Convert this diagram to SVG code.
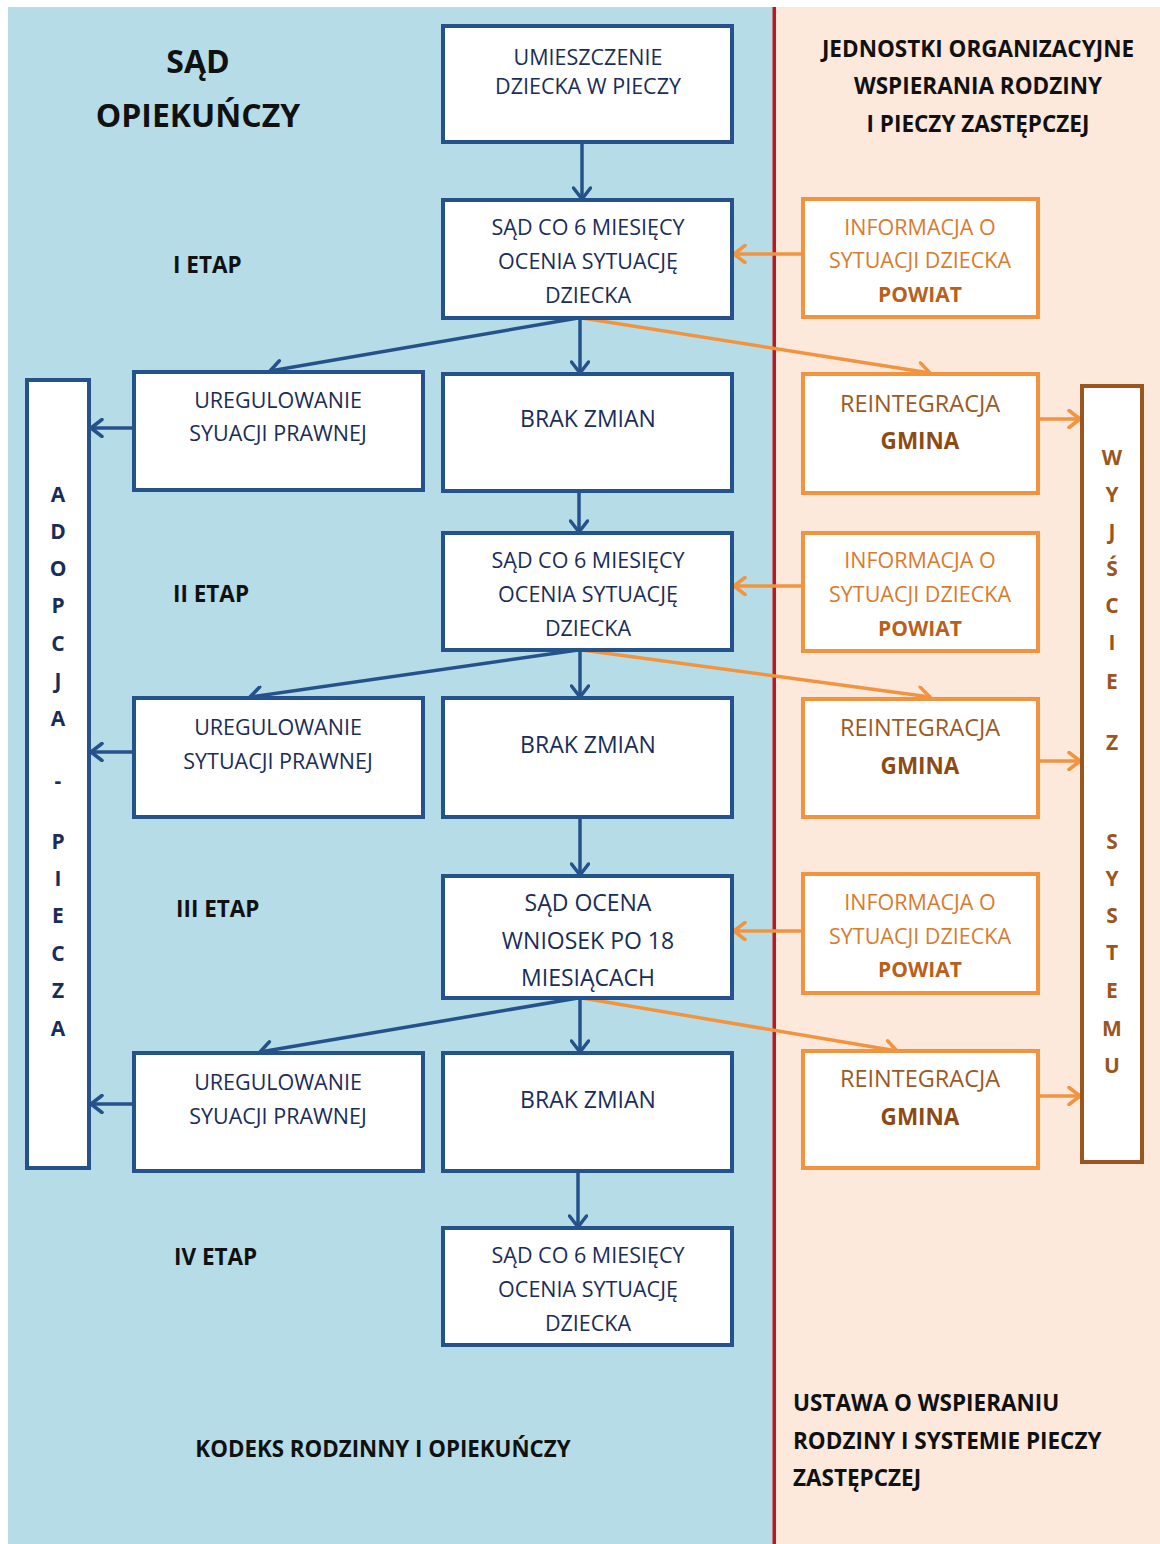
<svg xmlns="http://www.w3.org/2000/svg" width="1160" height="1544" viewBox="0 0 1160 1544">
<defs>
<style>
.bb{fill:#fff;stroke:#25528b;stroke-width:4}
.ob{fill:#fff;stroke:#f2943f;stroke-width:4}
.wb{fill:#fff;stroke:#9b561f;stroke-width:4}
.t{font-family:"Open Sans","Noto Sans",sans-serif;font-size:21.5px;fill:#1a2d58;text-anchor:middle}
.tb{font-family:"Open Sans","Noto Sans",sans-serif;font-size:23px;fill:#1a2d58;text-anchor:middle}
.to{font-family:"Open Sans","Noto Sans",sans-serif;font-size:21.5px;fill:#d97b2c;text-anchor:middle}
.tr{font-family:"Open Sans","Noto Sans",sans-serif;font-size:23.5px;fill:#9c5a25;text-anchor:middle}
.trb{font-family:"Open Sans","Noto Sans",sans-serif;font-size:22.5px;fill:#8e4a16;font-weight:bold;text-anchor:middle}
.pow{font-family:"Open Sans","Noto Sans",sans-serif;font-size:21px;fill:#b8601c;font-weight:bold;text-anchor:middle}
.h{font-family:"Open Sans","Noto Sans",sans-serif;font-weight:bold;fill:#111}
.va{font-family:"Open Sans","Noto Sans",sans-serif;font-weight:bold;font-size:21px;fill:#1a2d58;text-anchor:middle}
.vw{font-family:"Open Sans","Noto Sans",sans-serif;font-weight:bold;font-size:21px;fill:#9b561f;text-anchor:middle}
.cb{fill:none;stroke:#25528b;stroke-width:3.5}
.co{fill:none;stroke:#f2943f;stroke-width:3.5}
</style>
<marker id="mb" viewBox="0 0 20 20" refX="18" refY="10" markerWidth="20" markerHeight="20" orient="auto" markerUnits="userSpaceOnUse"><path d="M7,1.5 L18,10 L7,18.5" fill="none" stroke="#25528b" stroke-width="3.5" stroke-linecap="round" stroke-linejoin="round"/></marker>
<marker id="mo" viewBox="0 0 20 20" refX="18" refY="10" markerWidth="20" markerHeight="20" orient="auto" markerUnits="userSpaceOnUse"><path d="M7,1.5 L18,10 L7,18.5" fill="none" stroke="#f2943f" stroke-width="3.5" stroke-linecap="round" stroke-linejoin="round"/></marker>
</defs>
<rect x="0" y="0" width="1160" height="1544" fill="#fff"/>
<rect x="8" y="7" width="767" height="1537" fill="#b6dde7"/>
<rect x="775" y="7" width="385" height="1537" fill="#fce9dc"/>
<rect x="772.5" y="7" width="3.5" height="1537" fill="#c0161f"/>

<g id="headers">
<text class="h" x="198" y="73" font-size="32" text-anchor="middle">SĄD</text>
<text class="h" x="198" y="127" font-size="32" text-anchor="middle">OPIEKUŃCZY</text>
<text class="h" x="978" y="57" font-size="22.5" text-anchor="middle">JEDNOSTKI ORGANIZACYJNE</text>
<text class="h" x="978" y="94" font-size="22.5" text-anchor="middle">WSPIERANIA RODZINY</text>
<text class="h" x="978" y="132" font-size="22.5" text-anchor="middle">I PIECZY ZASTĘPCZEJ</text>
<text class="h" x="173" y="273" font-size="22.5">I ETAP</text>
<text class="h" x="173" y="602" font-size="22.5">II ETAP</text>
<text class="h" x="176" y="917" font-size="22.5">III ETAP</text>
<text class="h" x="174" y="1265" font-size="22.5">IV ETAP</text>
<text class="h" x="383" y="1457" font-size="22.3" text-anchor="middle">KODEKS RODZINNY I OPIEKUŃCZY</text>
<text class="h" x="793" y="1411" font-size="22.5">USTAWA O WSPIERANIU</text>
<text class="h" x="793" y="1449" font-size="22.5">RODZINY I SYSTEMIE PIECZY</text>
<text class="h" x="793" y="1486" font-size="22.5">ZASTĘPCZEJ</text>
</g>

<g id="connectors">
<line class="cb" x1="582" y1="142" x2="582" y2="199" marker-end="url(#mb)"/>
<line class="co" x1="803" y1="254" x2="734" y2="254" marker-end="url(#mo)"/>
<line class="cb" x1="578" y1="318" x2="270" y2="371" marker-end="url(#mb)"/>
<line class="cb" x1="580" y1="318" x2="580" y2="373" marker-end="url(#mb)"/>
<line class="co" x1="582" y1="318" x2="930" y2="373" marker-end="url(#mo)"/>
<line class="cb" x1="140" y1="428" x2="91" y2="428" marker-end="url(#mb)"/>
<line class="co" x1="1038" y1="419" x2="1080" y2="419" marker-end="url(#mo)"/>
<line class="cb" x1="579" y1="491" x2="579" y2="532" marker-end="url(#mb)"/>
<line class="co" x1="803" y1="586" x2="734" y2="586" marker-end="url(#mo)"/>
<line class="cb" x1="578" y1="650" x2="250" y2="697" marker-end="url(#mb)"/>
<line class="cb" x1="580" y1="650" x2="580" y2="697" marker-end="url(#mb)"/>
<line class="co" x1="582" y1="650" x2="930" y2="697" marker-end="url(#mo)"/>
<line class="cb" x1="134" y1="752" x2="91" y2="752" marker-end="url(#mb)"/>
<line class="co" x1="1038" y1="761" x2="1080" y2="761" marker-end="url(#mo)"/>
<line class="cb" x1="580" y1="808" x2="580" y2="875" marker-end="url(#mb)"/>
<line class="co" x1="803" y1="931" x2="734" y2="931" marker-end="url(#mo)"/>
<line class="cb" x1="578" y1="998" x2="260" y2="1052" marker-end="url(#mb)"/>
<line class="cb" x1="580" y1="998" x2="580" y2="1052" marker-end="url(#mb)"/>
<line class="co" x1="582" y1="998" x2="897" y2="1051" marker-end="url(#mo)"/>
<line class="cb" x1="134" y1="1104" x2="91" y2="1104" marker-end="url(#mb)"/>
<line class="co" x1="1038" y1="1096" x2="1080" y2="1096" marker-end="url(#mo)"/>
<line class="cb" x1="578" y1="1171" x2="578" y2="1227" marker-end="url(#mb)"/>
</g>

<g id="n-umieszczenie"><rect class="bb" x="443" y="26" width="289" height="116"/>
<text class="t" x="588" y="65">UMIESZCZENIE</text><text class="t" x="588" y="94">DZIECKA W PIECZY</text></g>

<g id="n-sad1"><rect class="bb" x="443" y="200" width="289" height="118"/>
<text class="t" x="588" y="235">SĄD CO 6 MIESIĘCY</text><text class="t" x="588" y="269">OCENIA SYTUACJĘ</text><text class="t" x="588" y="303">DZIECKA</text></g>

<g id="n-ure1"><rect class="bb" x="134" y="372" width="289" height="118"/>
<text class="t" x="278" y="408">UREGULOWANIE</text><text class="t" x="278" y="441">SYUACJI PRAWNEJ</text></g>

<g id="n-brak1"><rect class="bb" x="443" y="374" width="289" height="117"/>
<text class="tb" x="588" y="427">BRAK ZMIAN</text></g>

<g id="n-sad2"><rect class="bb" x="443" y="533" width="289" height="117"/>
<text class="t" x="588" y="568">SĄD CO 6 MIESIĘCY</text><text class="t" x="588" y="602">OCENIA SYTUACJĘ</text><text class="t" x="588" y="636">DZIECKA</text></g>

<g id="n-ure2"><rect class="bb" x="134" y="698" width="289" height="119"/>
<text class="t" x="278" y="735">UREGULOWANIE</text><text class="t" x="278" y="769">SYTUACJI PRAWNEJ</text></g>

<g id="n-brak2"><rect class="bb" x="443" y="698" width="289" height="119"/>
<text class="tb" x="588" y="753">BRAK ZMIAN</text></g>

<g id="n-sad3"><rect class="bb" x="443" y="876" width="289" height="122"/>
<text class="tb" x="588" y="911">SĄD OCENA</text><text class="tb" x="588" y="949">WNIOSEK PO 18</text><text class="tb" x="588" y="986">MIESIĄCACH</text></g>

<g id="n-ure3"><rect class="bb" x="134" y="1053" width="289" height="118"/>
<text class="t" x="278" y="1090">UREGULOWANIE</text><text class="t" x="278" y="1124">SYUACJI PRAWNEJ</text></g>

<g id="n-brak3"><rect class="bb" x="443" y="1053" width="289" height="118"/>
<text class="tb" x="588" y="1108">BRAK ZMIAN</text></g>

<g id="n-sad4"><rect class="bb" x="443" y="1228" width="289" height="117"/>
<text class="t" x="588" y="1263">SĄD CO 6 MIESIĘCY</text><text class="t" x="588" y="1297">OCENIA SYTUACJĘ</text><text class="t" x="588" y="1331">DZIECKA</text></g>

<g id="n-adopcja"><rect class="bb" x="27" y="380" width="62" height="788"/>
<text class="va" x="58" y="502">A</text><text class="va" x="58" y="539">D</text><text class="va" x="58" y="576">O</text><text class="va" x="58" y="613">P</text><text class="va" x="58" y="651">C</text><text class="va" x="58" y="688">J</text><text class="va" x="58" y="726">A</text><text class="va" x="58" y="788">-</text><text class="va" x="58" y="849">P</text><text class="va" x="58" y="886">I</text><text class="va" x="58" y="923">E</text><text class="va" x="58" y="961">C</text><text class="va" x="58" y="998">Z</text><text class="va" x="58" y="1036">A</text></g>

<g id="n-info1"><rect class="ob" x="803" y="199" width="235" height="118"/>
<text class="to" x="920" y="235">INFORMACJA O</text><text class="to" x="920" y="268">SYTUACJI DZIECKA</text><text class="pow" x="920" y="302">POWIAT</text></g>

<g id="n-reint1"><rect class="ob" x="803" y="374" width="235" height="119"/>
<text class="tr" x="920" y="412">REINTEGRACJA</text><text class="trb" x="920" y="449">GMINA</text></g>

<g id="n-info2"><rect class="ob" x="803" y="533" width="235" height="118"/>
<text class="to" x="920" y="568">INFORMACJA O</text><text class="to" x="920" y="602">SYTUACJI DZIECKA</text><text class="pow" x="920" y="636">POWIAT</text></g>

<g id="n-reint2"><rect class="ob" x="803" y="699" width="235" height="118"/>
<text class="tr" x="920" y="736">REINTEGRACJA</text><text class="trb" x="920" y="774">GMINA</text></g>

<g id="n-info3"><rect class="ob" x="803" y="874" width="235" height="119"/>
<text class="to" x="920" y="910">INFORMACJA O</text><text class="to" x="920" y="944">SYTUACJI DZIECKA</text><text class="pow" x="920" y="977">POWIAT</text></g>

<g id="n-reint3"><rect class="ob" x="803" y="1051" width="235" height="117"/>
<text class="tr" x="920" y="1087">REINTEGRACJA</text><text class="trb" x="920" y="1125">GMINA</text></g>

<g id="n-wyjscie"><rect class="wb" x="1082" y="386" width="60" height="776"/>
<text class="vw" x="1112" y="465">W</text><text class="vw" x="1112" y="502">Y</text><text class="vw" x="1112" y="539">J</text><text class="vw" x="1112" y="576">Ś</text><text class="vw" x="1112" y="613">C</text><text class="vw" x="1112" y="650">I</text><text class="vw" x="1112" y="689">E</text><text class="vw" x="1112" y="750">Z</text><text class="vw" x="1112" y="849">S</text><text class="vw" x="1112" y="886">Y</text><text class="vw" x="1112" y="923">S</text><text class="vw" x="1112" y="960">T</text><text class="vw" x="1112" y="998">E</text><text class="vw" x="1112" y="1036">M</text><text class="vw" x="1112" y="1073">U</text></g>
</svg>
